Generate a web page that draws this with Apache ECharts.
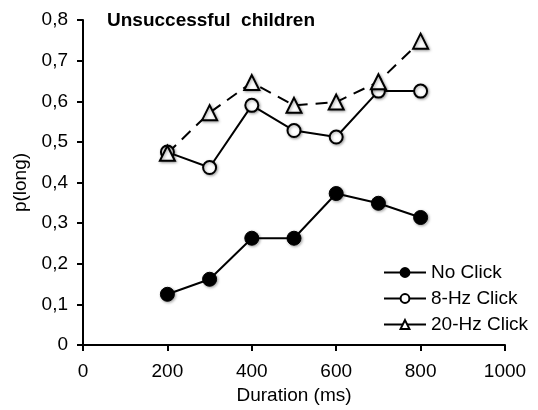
<!DOCTYPE html>
<html>
<head>
<meta charset="utf-8">
<script src="https://cdn.jsdelivr.net/npm/echarts@6/dist/echarts.min.js"></script>
<style>
  html, body { margin: 0; padding: 0; background: #fff; }
  #chart { width: 538px; height: 410px; }
</style>
</head>
<body>
<div id="chart"></div>
<script>
// durations (ms)
const durations = [200, 300, 400, 500, 600, 700, 800];
// p(long) per condition
const noClick = [0.125, 0.162, 0.263, 0.263, 0.373, 0.349, 0.314];
const click8Hz = [0.475, 0.437, 0.590, 0.528, 0.512, 0.625, 0.625];
const click20Hz = [0.472, 0.572, 0.646, 0.590, 0.598, 0.648, 0.748];
const seriesNames = ['No Click', '8-Hz Click', '20-Hz Click'];

const chart = echarts.init(document.getElementById('chart'));

const font = 'Liberation Sans, Arial, sans-serif';
const shadow = { shadowColor: 'rgba(0,0,0,0.35)', shadowBlur: 3, shadowOffsetX: 1, shadowOffsetY: 1 };

function pairs(vals) {
  return durations.map((d, i) => [d, vals[i]]);
}

chart.setOption({
  animation: false,
  title: {
    text: 'Unsuccessful  children',
    left: 102,
    top: 6,
    textStyle: { fontFamily: font, fontSize: 19, fontWeight: 'bold', color: '#000' }
  },
  grid: { left: 83, right: 33, top: 20, bottom: 62 },
  legend: {
    orient: 'vertical',
    left: 378,
    top: 258,
    itemWidth: 42,
    itemHeight: 11,
    itemGap: 7,
    data: seriesNames,
    lineStyle: { type: 'solid', width: 2 },
    textStyle: { fontFamily: font, fontSize: 19, color: '#000' }
  },
  xAxis: {
    type: 'value',
    min: 0,
    max: 1000,
    interval: 200,
    name: 'Duration (ms)',
    nameLocation: 'middle',
    nameGap: 38,
    nameTextStyle: { fontFamily: font, fontSize: 19, color: '#000' },
    splitLine: { show: false },
    axisLine: { lineStyle: { color: '#000', width: 2 } },
    axisTick: { show: true, length: 6, lineStyle: { color: '#000', width: 2 } },
    axisLabel: {
      fontFamily: font, fontSize: 19, color: '#000', margin: 17,
      formatter: v => String(v)
    }
  },
  yAxis: {
    type: 'value',
    min: 0,
    max: 0.8,
    interval: 0.1,
    name: 'p(long)',
    nameLocation: 'middle',
    nameGap: 48,
    nameTextStyle: { fontFamily: font, fontSize: 19, color: '#000' },
    splitLine: { show: false },
    axisLine: { show: true, lineStyle: { color: '#000', width: 2 } },
    axisTick: { show: true, length: 6, lineStyle: { color: '#000', width: 2 } },
    axisLabel: {
      fontFamily: font, fontSize: 19, color: '#000', margin: 15,
      formatter: v => (Math.round(v * 10) / 10).toString().replace('.', ',')
    }
  },
  series: [
    {
      name: seriesNames[0],
      type: 'line',
      data: pairs(noClick),
      symbol: 'circle',
      symbolSize: 14,
      lineStyle: { color: '#000', width: 2 },
      itemStyle: Object.assign({ color: '#000', borderColor: '#000', borderWidth: 1 }, shadow)
    },
    {
      name: seriesNames[1],
      type: 'line',
      data: pairs(click8Hz),
      symbol: 'circle',
      symbolSize: 13,
      lineStyle: { color: '#000', width: 2 },
      itemStyle: Object.assign({ color: '#fff', borderColor: '#000', borderWidth: 2 }, shadow)
    },
    {
      name: seriesNames[2],
      type: 'line',
      data: pairs(click20Hz),
      symbol: 'triangle',
      symbolSize: 15,
      lineStyle: { color: '#000', width: 2, type: [12, 8] },
      itemStyle: Object.assign({ color: '#fff', borderColor: '#000', borderWidth: 2 }, shadow)
    }
  ]
});
</script>
</body>
</html>
